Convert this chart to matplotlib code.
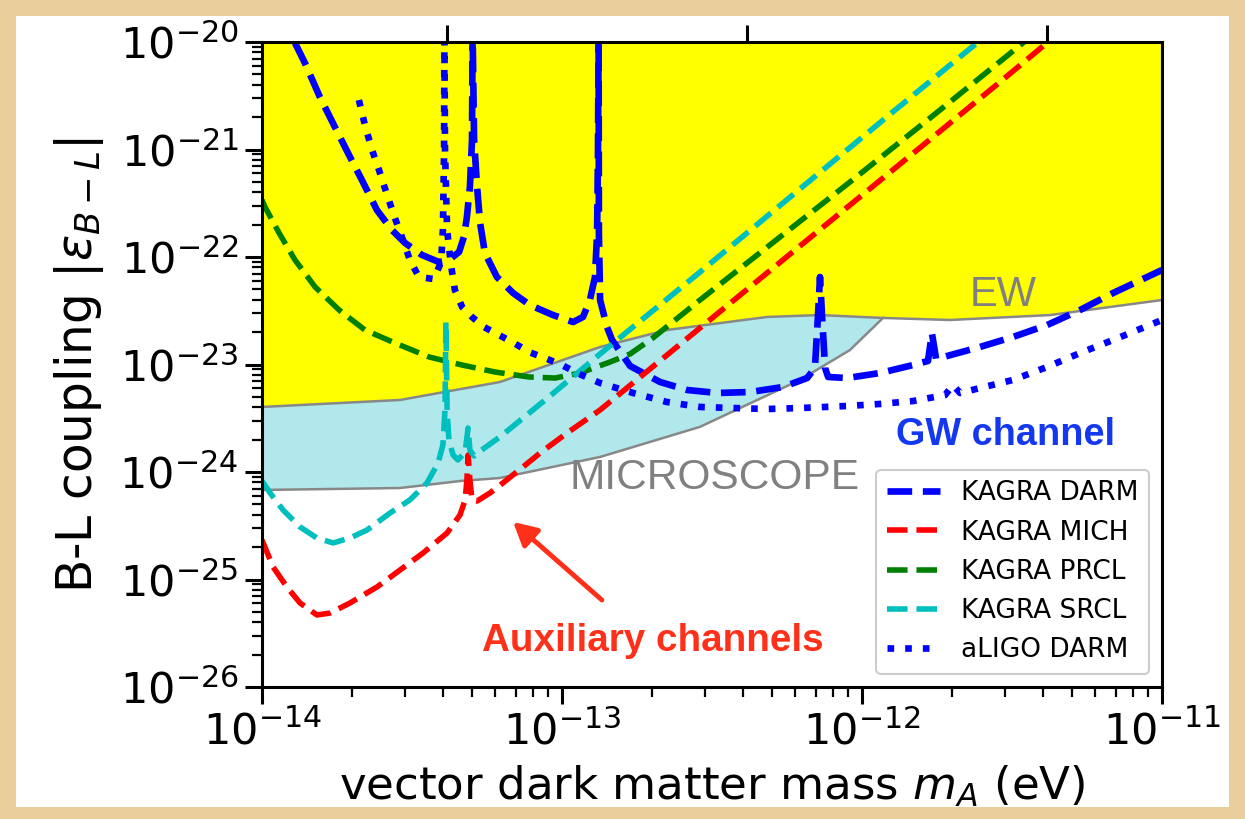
import numpy as np
import matplotlib
matplotlib.use("Agg")
import matplotlib.pyplot as plt
from matplotlib.patches import Rectangle
from matplotlib.ticker import LogLocator, NullLocator, NullFormatter

# ---- sensitivity curves: log10(mass / eV) and log10(|eps_B-L|) ----
darm_logm = [-13.890, -13.857, -13.807, -13.757, -13.710, -13.667, -13.617, -13.567,
             -13.523, -13.467, -13.410, -13.377, -13.343, -13.327, -13.317, -13.307,
             -13.300, -13.298, -13.293, -13.283, -13.273, -13.257, -13.217, -13.163,
             -13.107, -13.030, -12.963, -12.930, -12.907, -12.890, -12.883, -12.880,
             -12.878, -12.877, -12.873, -12.850, -12.833, -12.773, -12.673, -12.583,
             -12.483, -12.373, -12.263, -12.183, -12.157, -12.147, -12.140, -12.133,
             -12.123, -12.113, -12.050, -11.940, -11.830, -11.780, -11.767, -11.753,
             -11.607, -11.497, -11.383, -11.273, -11.163, -11.000]
darm_logeps = [-20.009, -20.195, -20.512, -20.791, -21.051, -21.284, -21.563, -21.749,
               -21.870, -21.981, -22.047, -22.028, -21.953, -21.814, -21.628, -21.349,
               -20.912, -19.900, -20.912, -21.349, -21.684, -21.963, -22.186, -22.335,
               -22.447, -22.540, -22.605, -22.558, -22.400, -22.186, -21.777, -21.005,
               -19.900, -21.777, -22.400, -22.651, -22.772, -23.014, -23.163, -23.237,
               -23.265, -23.256, -23.209, -23.126, -23.033, -22.558, -22.186, -22.558,
               -23.033, -23.116, -23.126, -23.079, -23.005, -22.967, -22.707, -22.949,
               -22.837, -22.744, -22.633, -22.493, -22.335, -22.121]

mich_logm = [-14.000, -13.963, -13.917, -13.873, -13.817, -13.773, -13.707, -13.617,
             -13.540, -13.463, -13.383, -13.340, -13.323, -13.317, -13.313, -13.307,
             -13.300, -13.283, -13.240, -13.197, -13.130, -13.073, -12.983, -12.873,
             -12.540, -12.207, -11.873, -11.540, -11.380]
mich_logeps = [-24.633, -24.884, -25.070, -25.219, -25.330, -25.312, -25.219, -25.070,
               -24.912, -24.753, -24.567, -24.400, -24.260, -24.074, -23.842, -24.074,
               -24.260, -24.270, -24.195, -24.102, -23.953, -23.823, -23.637, -23.423,
               -22.660, -21.898, -21.135, -20.372, -20.000]

prcl_logm = [-14.000, -13.990, -13.943, -13.890, -13.823, -13.743, -13.657, -13.557,
             -13.443, -13.333, -13.223, -13.110, -13.023, -12.940, -12.840, -12.773,
             -12.697, -12.540, -12.307, -12.040, -11.773, -11.513, -11.460]
prcl_logeps = [-21.470, -21.535, -21.777, -22.028, -22.279, -22.493, -22.679, -22.800,
               -22.930, -23.005, -23.070, -23.116, -23.126, -23.079, -22.977, -22.902,
               -22.753, -22.400, -21.888, -21.302, -20.707, -20.121, -20.000]

srcl_logm = [-14.000, -13.973, -13.930, -13.873, -13.817, -13.763, -13.707, -13.650,
             -13.573, -13.507, -13.450, -13.413, -13.397, -13.390, -13.387, -13.383,
             -13.377, -13.363, -13.347, -13.323, -13.313, -13.307, -13.293, -13.263,
             -13.207, -13.040, -12.873, -12.540, -12.207, -11.873, -11.613]
srcl_logeps = [-24.084, -24.195, -24.353, -24.512, -24.614, -24.660, -24.614, -24.540,
               -24.381, -24.260, -24.102, -23.916, -23.749, -23.423, -22.605, -23.423,
               -23.702, -23.842, -23.888, -23.814, -23.591, -23.795, -23.851, -23.786,
               -23.674, -23.293, -22.902, -22.140, -21.367, -20.595, -20.000]

aligo_logm = [-13.677, -13.657, -13.633, -13.610, -13.583, -13.557, -13.530, -13.507,
              -13.477, -13.427, -13.403, -13.397, -13.393, -13.392, -13.390, -13.383,
              -13.370, -13.357, -13.333, -13.300, -13.260, -13.210, -13.160, -13.110,
              -13.057, -13.000, -12.950, -12.873, -12.763, -12.650, -12.540, -12.430,
              -12.317, -12.207, -12.050, -11.940, -11.830, -11.723, -11.697, -11.673,
              -11.607, -11.497, -11.383, -11.273, -11.163, -11.000]
aligo_logeps = [-20.540, -20.772, -21.005, -21.191, -21.423, -21.637, -21.842, -22.028,
                -22.186, -22.205, -22.047, -21.749, -21.005, -19.900, -21.005, -21.749,
                -22.074, -22.307, -22.465, -22.558, -22.651, -22.726, -22.800, -22.884,
                -22.940, -23.005, -23.079, -23.172, -23.265, -23.349, -23.395, -23.405,
                -23.414, -23.405, -23.386, -23.367, -23.340, -23.284, -23.191, -23.265,
                -23.219, -23.144, -23.023, -22.893, -22.772, -22.586]

# ---- existing constraints ----
ew_logm = [-14.000, -13.540, -13.207, -12.873, -12.650, -12.317, -12.140, -11.930,
           -11.707, -11.373, -11.000]
ew_logeps = [-23.395, -23.330, -23.163, -22.837, -22.679, -22.558, -22.540, -22.567,
             -22.586, -22.540, -22.400]

micro_logm = [-14.000, -13.540, -13.340, -13.207, -12.873, -12.540, -12.207, -12.040,
              -11.930]
micro_logeps = [-24.167, -24.149, -24.084, -24.056, -23.860, -23.580, -23.144, -22.865,
                -22.567]

curve_labels = ["KAGRA DARM", "KAGRA MICH", "KAGRA PRCL", "KAGRA SRCL", "aLIGO DARM"]
x_decades = [-14, -13, -12, -11]
y_decades = [-26, -25, -24, -23, -22, -21, -20]
freq_ticks_hz = [10, 100, 1000]

X_RANGE = (1e-14, 1e-11)
Y_RANGE = (1e-26, 1e-20)
H_EV_S = 4.135667696e-15  # Planck constant in eV s


def arr(v):
    return 10.0 ** np.asarray(v, dtype=float)


W, H = 1245, 819
fig = plt.figure(figsize=(W / 100, H / 100), dpi=100)
fig.patch.set_facecolor("#e8cf9b")
panel = Rectangle((16 / W, 12 / H), (W - 32) / W, (H - 28) / H,
                  transform=fig.transFigure, facecolor="white",
                  edgecolor="none", zorder=-10)
fig.add_artist(panel)

ax = fig.add_axes([262 / W, 1 - 687 / H, 900 / W, 645 / H])
ax.set_xscale("log")
ax.set_yscale("log")
ax.set_xlim(*X_RANGE)
ax.set_ylim(*Y_RANGE)
ax.set_facecolor("white")
ax.set_xticks(arr(x_decades))
ax.set_yticks(arr(y_decades))
ax.xaxis.set_minor_locator(LogLocator(base=10, subs=np.arange(2, 10)))
ax.yaxis.set_minor_locator(LogLocator(base=10, subs=np.arange(2, 10)))
ax.xaxis.set_minor_formatter(NullFormatter())
ax.yaxis.set_minor_formatter(NullFormatter())

# shaded exclusion regions
ax.fill_between(arr(micro_logm), arr(micro_logeps), Y_RANGE[1],
                color="#b0e8eb", lw=0, zorder=1)
ax.fill_between(arr(ew_logm), arr(ew_logeps), Y_RANGE[1],
                color="#ffff00", lw=0, zorder=1.1)
ax.plot(arr(ew_logm), arr(ew_logeps), color="#888888", lw=1.8, zorder=1.2)
ax.plot(arr(micro_logm), arr(micro_logeps), color="#888888", lw=1.8, zorder=1.2)

ax.plot(arr(darm_logm), arr(darm_logeps), color="b", ls="--", lw=4.8,
        label=curve_labels[0], zorder=3)
ax.plot(arr(mich_logm), arr(mich_logeps), color="r", ls="--", lw=4.0,
        label=curve_labels[1], zorder=3)
ax.plot(arr(prcl_logm), arr(prcl_logeps), color="g", ls="--", lw=4.0,
        label=curve_labels[2], zorder=3)
ax.plot(arr(srcl_logm), arr(srcl_logeps), color="c", ls="--", lw=4.0,
        label=curve_labels[3], zorder=3)
ax.plot(arr(aligo_logm), arr(aligo_logeps), color="b", ls=":", lw=4.8,
        label=curve_labels[4], zorder=3)

# annotations
ann = "Liberation Sans"
ax.text(10 ** -11.53, 10 ** -22.353, "EW", color="#808080", fontsize=30,
        family=ann, ha="center", va="center", zorder=4)
ax.text(10 ** -12.493, 10 ** -24.056, "MICROSCOPE", color="#808080", fontsize=30.6,
        family=ann, ha="center", va="center", zorder=4)
ax.text(10 ** -11.52, 10 ** -23.656, "GW channel", color="#1438f0", fontsize=27.3,
        family=ann, weight="bold", ha="center", va="center", zorder=4)
ax.text(10 ** -12.697, 10 ** -25.572, "Auxiliary channels", color="#ff3019",
        fontsize=27.8, family=ann, weight="bold", ha="center", va="center", zorder=4)
ax.annotate("", xy=(10 ** -13.163, 10 ** -24.465), xytext=(10 ** -12.867, 10 ** -25.191),
            arrowprops=dict(arrowstyle="-|>,head_length=1.4,head_width=0.75",
                            color="#ff3019", lw=3.5, shrinkA=0, shrinkB=0), zorder=4)

leg = ax.legend(loc="lower right", fontsize=19, framealpha=1, edgecolor="#cccccc",
                fancybox=True, handlelength=2.0, borderaxespad=0.5)
leg.get_frame().set_linewidth(1.5)
leg.set_zorder(5)

for s in ax.spines.values():
    s.set_linewidth(2.2)
    s.set_zorder(6)
ax.tick_params(which="major", length=12, width=2.2, labelsize=31, pad=5)
ax.tick_params(which="minor", length=7, width=1.6)

ax.set_xlabel(r"vector dark matter mass $m_A$ (eV)", fontsize=32.5, labelpad=8)
ax.set_ylabel(r"B-L coupling $|\varepsilon_{B-L}|$", fontsize=35, labelpad=10)

# frequency ticks on the upper edge (f = m / h), labels lie outside the panel
ax_top = ax.twiny()
ax_top.set_xscale("log")
ax_top.set_xlim(X_RANGE[0] / H_EV_S, X_RANGE[1] / H_EV_S)
ax_top.set_xticks(freq_ticks_hz)
ax_top.xaxis.set_minor_locator(NullLocator())
ax_top.tick_params(which="major", length=12, width=2.2, labeltop=False,
                   labelbottom=False)
ax_top.yaxis.set_visible(False)
ax_top.patch.set_visible(False)
for s in ax_top.spines.values():
    s.set_visible(False)

fig.savefig("out.png", dpi=100, facecolor=fig.get_facecolor())
